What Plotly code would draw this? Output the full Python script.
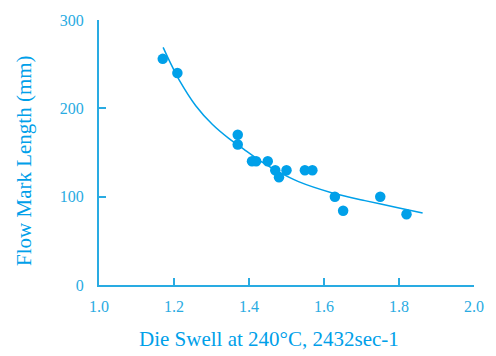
import plotly.graph_objects as go

# Measured data points
die_swell = [1.170, 1.209, 1.370, 1.370, 1.408, 1.419, 1.450, 1.470, 1.480,
             1.500, 1.549, 1.569, 1.629, 1.651, 1.750, 1.820]
flow_mark = [256, 240, 170, 159, 140, 140, 140, 130, 122,
             130, 130, 130, 100, 84, 100, 80]

# Trend curve
curve_x = [1.171, 1.192, 1.214, 1.258, 1.302, 1.346, 1.390, 1.435, 1.479,
           1.532, 1.620, 1.709, 1.797, 1.863]
curve_y = [269.0, 250.0, 232.0, 203.0, 182.0, 166.0, 152.5, 139.0, 128.0,
           117.0, 104.5, 95.5, 87.5, 81.6]

x_ticks = [1.0, 1.2, 1.4, 1.6, 1.8, 2.0]
x_tick_text = ["1.0", "1.2", "1.4", "1.6", "1.8", "2.0"]
y_ticks = [0, 100, 200, 300]

BLUE = "#00a0e9"
AXIS = "#29abe2"
FONT = "Liberation Serif"

fig = go.Figure()
fig.add_trace(go.Scatter(x=curve_x, y=curve_y, mode="lines",
                         line=dict(color=BLUE, width=1.5, shape="spline",
                                   smoothing=0.8),
                         hoverinfo="skip", showlegend=False))
fig.add_trace(go.Scatter(x=die_swell, y=flow_mark, mode="markers",
                         marker=dict(color=BLUE, size=10.5, line=dict(width=0)),
                         showlegend=False))

fig.update_layout(
    width=496, height=356,
    margin=dict(l=99, r=19, t=15, b=71),
    paper_bgcolor="white", plot_bgcolor="white",
    font=dict(family=FONT, color=BLUE, size=16),
    xaxis=dict(range=[1.0, 2.0], tickvals=x_ticks, ticktext=x_tick_text,
               showgrid=False, zeroline=False, showline=True,
               linecolor=AXIS, linewidth=2, ticks="inside", ticklen=7,
               tickcolor=AXIS, tickwidth=1.5, ticklabelstandoff=6,
               tickfont=dict(family=FONT, color=AXIS, size=16)),
    yaxis=dict(range=[0, 300], tickvals=y_ticks,
               showgrid=False, zeroline=False, showline=True,
               linecolor=AXIS, linewidth=2, ticks="inside", ticklen=7,
               tickcolor=AXIS, tickwidth=1.5, ticklabelstandoff=10,
               tickfont=dict(family=FONT, color=AXIS, size=16)),
    annotations=[
        dict(text="Die Swell at 240°C, 2432sec-1", xref="paper", yref="paper",
             x=(270 - 99) / 378, y=-(340 - 285) / 270, xanchor="center",
             yanchor="middle", showarrow=False,
             font=dict(family=FONT, color=BLUE, size=21)),
        dict(text="Flow Mark Length (mm)", xref="paper", yref="paper",
             x=-(99 - 24) / 378, y=(285 - 158) / 270, xanchor="center",
             yanchor="middle", showarrow=False, textangle=-90,
             font=dict(family=FONT, color=BLUE, size=21)),
    ],
)

fig.write_html("out.html")
